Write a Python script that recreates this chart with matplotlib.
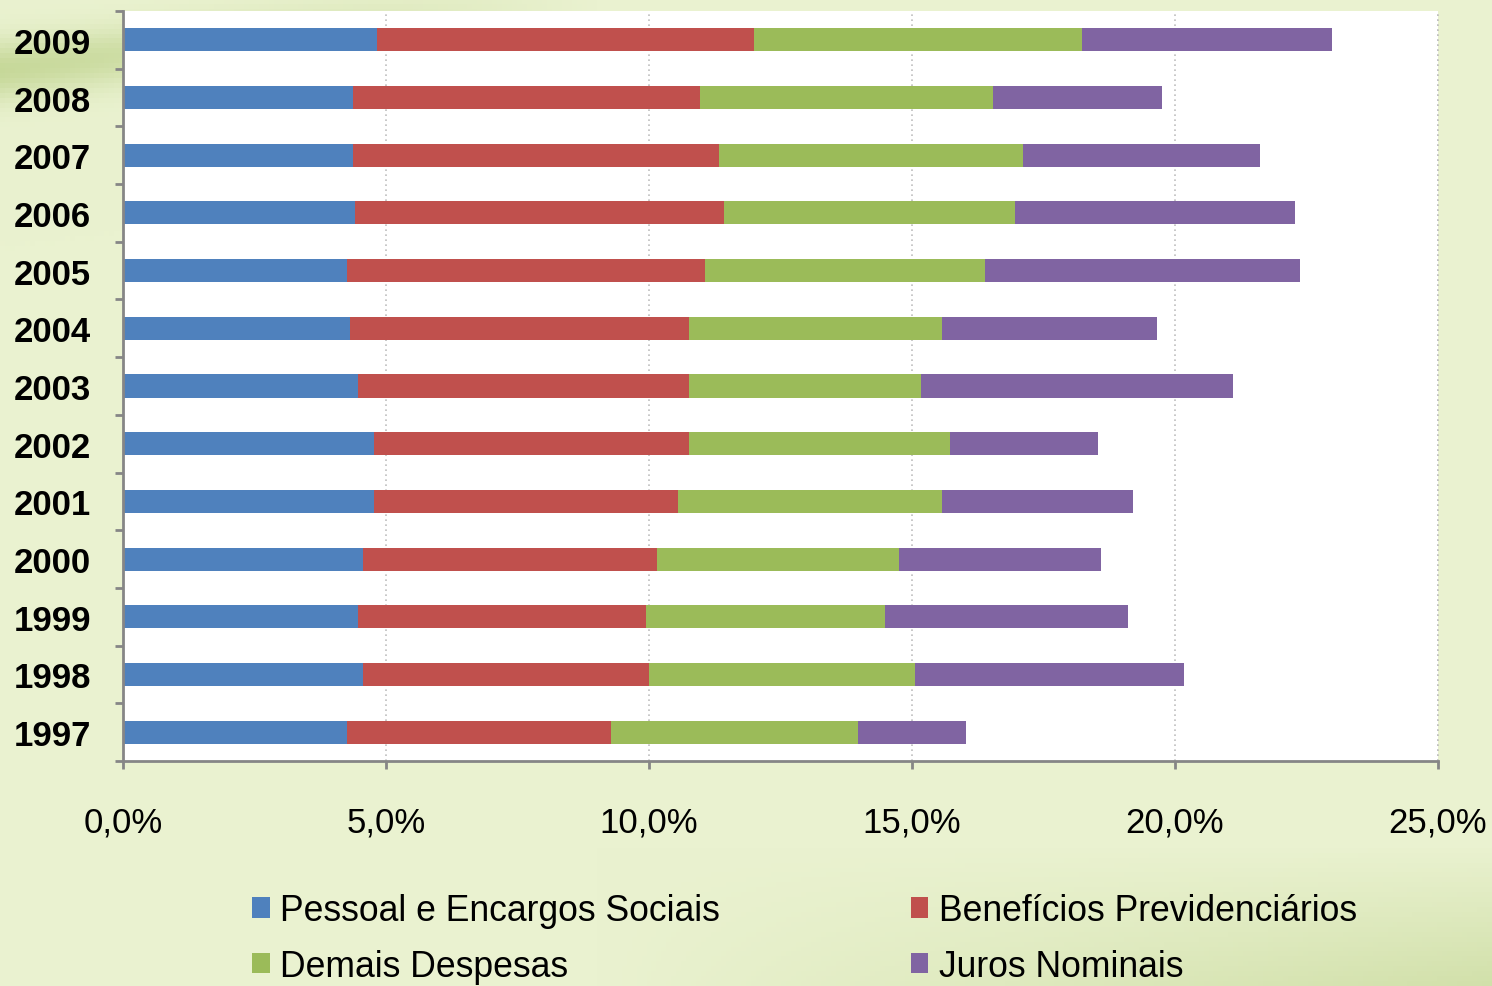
import numpy as np
import matplotlib
matplotlib.use("Agg")
import matplotlib.pyplot as plt
from matplotlib.ticker import FuncFormatter

years = ["1997", "1998", "1999", "2000", "2001", "2002", "2003",
         "2004", "2005", "2006", "2007", "2008", "2009"]
pessoal = [4.26, 4.56, 4.47, 4.56, 4.77, 4.77, 4.47, 4.32, 4.26, 4.41, 4.37, 4.37, 4.83]
beneficios = [5.02, 5.44, 5.47, 5.59, 5.78, 5.99, 6.29, 6.44, 6.80, 7.02, 6.96, 6.60, 7.17]
demais = [4.69, 5.06, 4.55, 4.60, 5.02, 4.96, 4.41, 4.81, 5.33, 5.53, 5.78, 5.57, 6.23]
juros = [2.06, 5.11, 4.62, 3.84, 3.63, 2.82, 5.93, 4.09, 5.99, 5.32, 4.51, 3.21, 4.75]

series_names = ["Pessoal e Encargos Sociais", "Benefícios Previdenciários",
                "Demais Despesas", "Juros Nominais"]
colors = ["#4F81BD", "#C0504D", "#9BBB59", "#8064A2"]
xticks = [0, 5, 10, 15, 20, 25]

plt.rcParams['font.family'] = ['Liberation Sans', 'DejaVu Sans']

W, H = 1492, 987
fig = plt.figure(figsize=(W / 100, H / 100), dpi=100)

# background gradient
bg = fig.add_axes([0, 0, 1, 1], zorder=-10)
ny, nx = 200, 300
yy, xx = np.mgrid[0:1:ny * 1j, 0:1:nx * 1j]
base = np.array([234, 242, 208]) / 255.0
dark = np.array([190, 210, 140]) / 255.0
w = np.zeros_like(xx)
# top-left swoosh
w += 0.8 * np.exp(-((yy - (0.01 + 0.06 * np.clip(1 - xx * 3, 0, 1))) / 0.03) ** 2) * np.clip(1 - xx * 2.5, 0, 1)
# bottom-right swoosh
w += 0.55 * np.clip((yy - 0.86) / 0.14, 0, 1) * np.clip((xx - 0.4) / 0.6, 0, 1)
w = np.clip(w, 0, 1)
img = base[None, None, :] * (1 - w[..., None]) + dark[None, None, :] * w[..., None]
bg.imshow(img, aspect='auto', extent=[0, 1, 0, 1], origin='upper')
bg.axis('off')

ax = fig.add_axes([123 / W, 1 - 762 / H, (1438 - 123) / W, (762 - 12) / H])
ax.set_facecolor('white')

y = np.arange(len(years))
left = np.zeros(len(years))
bars = []
for vals, c, name in zip([pessoal, beneficios, demais, juros], colors, series_names):
    b = ax.barh(y, vals, left=left, height=0.4, color=c, label=name, zorder=3)
    bars.append(b)
    left = left + np.array(vals)

ax.set_xlim(0, 25)
ax.set_ylim(-0.5, len(years) - 0.5)
ax.set_xticks(xticks)
ax.xaxis.set_major_formatter(FuncFormatter(lambda v, p: f"{v:.1f}%".replace('.', ',')))
ax.set_yticks(y)
ax.set_yticklabels(years, fontsize=25, fontweight='bold')
ax.set_yticks(np.arange(-0.5, len(years), 1), minor=True)
ax.tick_params(axis='y', which='major', length=0, pad=23)
ax.tick_params(axis='y', which='minor', length=6, width=2, color='#868686', direction='out')
ax.tick_params(axis='x', which='major', length=6, width=2, color='#868686', labelsize=25, pad=26)

for s in ['top', 'right']:
    ax.spines[s].set_visible(False)
for s in ['left', 'bottom']:
    ax.spines[s].set_color('#868686')
    ax.spines[s].set_linewidth(2)
    ax.spines[s].set_zorder(4)

ax.grid(axis='x', linestyle=(0, (1, 2)), color='#BFBFBF', linewidth=1.2, zorder=0)
ax.axvline(25, linestyle=(0, (1, 2)), color='#BFBFBF', linewidth=1.2, zorder=0, clip_on=False)

# row-wise legend order (matplotlib fills columns first)
order = [0, 2, 1, 3]
leg = fig.legend(handles=[bars[i] for i in order], labels=[series_names[i] for i in order],
                 ncol=2, loc='upper left', bbox_to_anchor=(252 / W, 1 - 894 / H),
                 frameon=False, fontsize=25.6, handlelength=0.5, handleheight=0.5,
                 handletextpad=0.3, columnspacing=5.35, labelspacing=0.58,
                 borderpad=0, borderaxespad=0)

fig.savefig("out.png", dpi=100)
